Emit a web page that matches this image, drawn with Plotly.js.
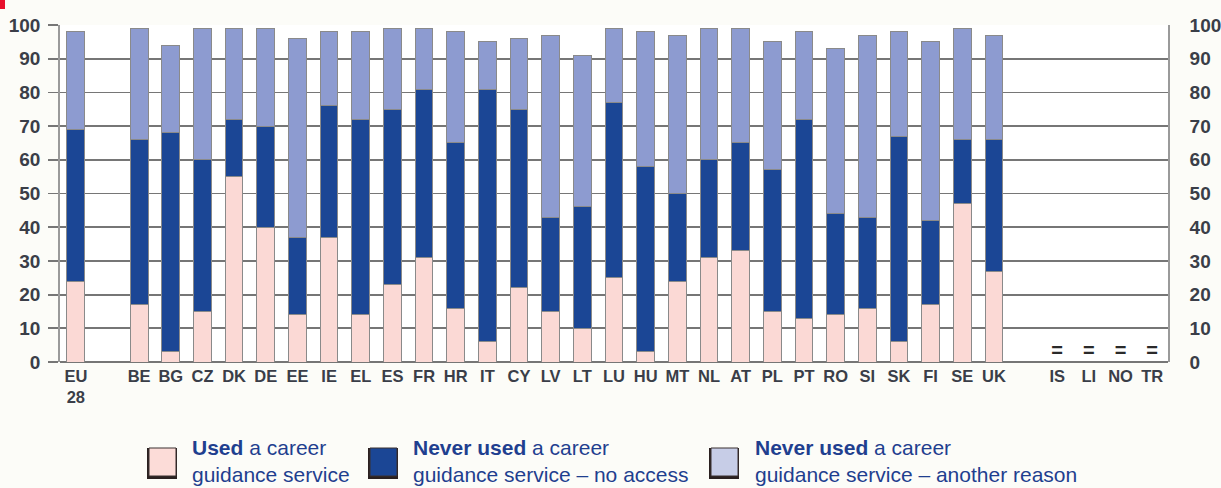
<!DOCTYPE html>
<html><head><meta charset="utf-8">
<script src="https://cdn.plot.ly/plotly-3.0.1.min.js"></script>
<style>html,body{margin:0;padding:0;background:#fcfcf8;}#chart{width:1221px;height:488px;}</style>
</head><body><div id="chart"></div>
<script>
// Categories (blank slots separate groups)
const categories = ["EU28","gap1","BE","BG","CZ","DK","DE","EE","IE","EL","ES","FR","HR","IT","CY","LV","LT","LU","HU","MT","NL","AT","PL","PT","RO","SI","SK","FI","SE","UK","gap2","IS","LI","NO","TR"];
const tickLabels = ["EU<br>28","","BE","BG","CZ","DK","DE","EE","IE","EL","ES","FR","HR","IT","CY","LV","LT","LU","HU","MT","NL","AT","PL","PT","RO","SI","SK","FI","SE","UK","","IS","LI","NO","TR"];
// Segment values (%)
const used      = [24,null,17,3,15,55,40,14,37,14,23,31,16,6,22,15,10,25,3,24,31,33,15,13,14,16,6,17,47,27,null,null,null,null,null];
const noAccess  = [45,null,49,65,45,17,30,23,39,58,52,50,49,75,53,28,36,52,55,26,29,32,42,59,30,27,61,25,19,39,null,null,null,null,null];
const another   = [29,null,33,26,39,27,29,59,22,26,24,18,33,14,21,54,45,22,40,47,39,34,38,26,49,54,31,53,33,31,null,null,null,null,null];
// Countries without data, shown with a "=" marker
const naCats = ["IS","LI","NO","TR"];
const naLevel = [3,3,3,3];
const seriesNames = ["Used","Never used","Never used"];
const seriesRest = [" a career<br>guidance service"," a career<br>guidance service – no access"," a career<br>guidance service – another reason"];
const barColors = ["#fbd9d5","#1b4695","#8d9bd0"];
const swatchColors = ["#fcdcd8","#1b4695","#c7cde7"];

const lineCol = "#8a8a8a";
const traces = [used, noAccess, another].map((v,i)=>({
  type:"bar", x:categories, y:v, name:seriesNames[i],
  marker:{color:barColors[i], line:{color:lineCol, width:1}},
  width:0.56, showlegend:false, hoverinfo:"y"
}));
traces.push({type:"scatter", mode:"text", x:naCats, y:naLevel, text:naCats.map(()=>"="),
  textfont:{family:"Liberation Sans, Arial", size:20, color:"#2a2a2a", weight:"bold"}, showlegend:false, hoverinfo:"skip"});
traces.push({type:"scatter", x:[categories[0]], y:[0], yaxis:"y2", mode:"markers", marker:{opacity:0}, showlegend:false, hoverinfo:"skip"});

const yFont = {family:"Liberation Sans, Arial", size:19, color:"#3a3e48", weight:"bold"};
const xFont = {family:"Liberation Sans, Arial", size:16.5, color:"#3a3e48", weight:"bold"};
const yBase = {range:[0,100], dtick:10, tick0:0, showgrid:true, gridcolor:"#767676", gridwidth:1.8,
  zeroline:true, zerolinecolor:"#767676", zerolinewidth:1.8, showline:true, linecolor:"#9a9a9a", linewidth:1.8,
  tickfont:yFont, fixedrange:true};

const W = 1108, H = 337, L = 60, T = 25;
const px = x => (x - L) / W;
const py = y => (T + H - y) / H;
const shapes = [];
const annotations = [];
const legSw = [146, 367, 708];
const legTx = [192, 413, 755];
legSw.forEach((x,i)=>{
  shapes.push({type:"rect", xref:"paper", yref:"paper",
    x0:px(x+1), x1:px(x+31), y0:py(479), y1:py(448), fillcolor:"#2a2020", line:{width:0}});
  shapes.push({type:"rect", xref:"paper", yref:"paper",
    x0:px(x+3), x1:px(x+30), y0:py(476), y1:py(448), fillcolor:swatchColors[i], line:{color:"#3a3030", width:1}});
  annotations.push({xref:"paper", yref:"paper", x:px(legTx[i]-2), y:py(434), xanchor:"left", yanchor:"top",
    align:"left", showarrow:false,
    text:"<b>"+seriesNames[i]+"</b>"+seriesRest[i],
    font:{family:"Liberation Sans, Arial", size:21, color:"#1f3f8f"}});
});
shapes.push({type:"rect", xref:"paper", yref:"paper", x0:px(0), x1:px(5), y0:py(9), y1:py(0), fillcolor:"#e8102c", line:{width:0}});

const layout = {
  width:1221, height:488, margin:{l:60, r:53, t:25, b:126},
  paper_bgcolor:"#fcfcf8", plot_bgcolor:"#ffffff",
  barmode:"stack", showlegend:false,
  font:{family:"Liberation Sans, Arial"},
  xaxis:{type:"category", categoryorder:"array", categoryarray:categories, range:[-0.5, categories.length-0.5],
    tickmode:"array", tickvals:categories, ticktext:tickLabels, tickfont:xFont, ticks:"", showgrid:false,
    showline:false, fixedrange:true, ticklabelstandoff:2},
  yaxis:Object.assign({}, yBase, {side:"left", ticks:"outside", ticklen:10, tickcolor:"#767676", tickwidth:1.8, ticklabelstandoff:4}),
  yaxis2:Object.assign({}, yBase, {overlaying:"y", side:"right", showgrid:false, ticks:"", ticklabelstandoff:16}),
  shapes:shapes, annotations:annotations
};
Plotly.newPlot("chart", traces, layout, {staticPlot:true});
</script></body></html>
